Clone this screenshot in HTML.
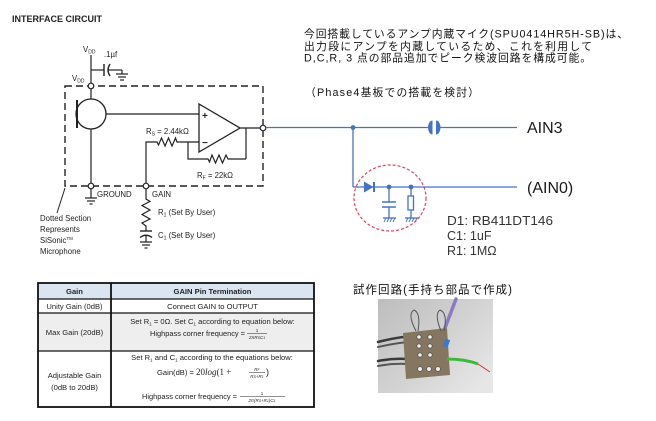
<!DOCTYPE html>
<html><head><meta charset="utf-8">
<style>
html,body{margin:0;padding:0;background:#fff;}
svg{display:block;}
text{font-family:"Liberation Sans","Noto Sans CJK JP",sans-serif;}
</style></head><body>
<svg width="656" height="421" viewBox="0 0 656 421" xmlns="http://www.w3.org/2000/svg">
<defs>
<linearGradient id="bg" x1="0" y1="0" x2="1" y2="0.8">
<stop offset="0" stop-color="#bdbdbd"/><stop offset="0.55" stop-color="#d2d2d2"/><stop offset="1" stop-color="#e6e6e6"/>
</linearGradient>
</defs>
<rect width="656" height="421" fill="#fff"/>

<!-- Title -->
<text x="12" y="22" font-size="9.5" font-weight="bold" fill="#222" textLength="90" lengthAdjust="spacingAndGlyphs">INTERFACE CIRCUIT</text>

<!-- Left circuit -->
<g stroke="#222" stroke-width="1.2" fill="none">
  <line x1="91" y1="55" x2="91" y2="84"/>
  <line x1="91" y1="70" x2="104" y2="70"/>
  <line x1="104" y1="64" x2="104" y2="76" stroke-width="1.4"/>
  <path d="M110,64 Q106,70 110,76" stroke-width="1.4"/>
  <line x1="108" y1="70" x2="122" y2="70"/>
  <line x1="122" y1="70" x2="122" y2="74"/>
  <line x1="116" y1="74" x2="128" y2="74"/>
  <line x1="118" y1="77" x2="126" y2="77"/>
  <line x1="120" y1="80" x2="124" y2="80"/>
  <rect x="65" y="86" width="198" height="100" stroke-dasharray="7,4" stroke-width="1.4"/>
  <line x1="91" y1="89" x2="91" y2="99"/>
  <circle cx="91" cy="114" r="15" stroke-width="1.3"/>
  <line x1="77" y1="100" x2="77" y2="128" stroke-width="2"/>
  <line x1="91" y1="129" x2="91" y2="183"/>
  <line x1="106" y1="114" x2="199" y2="114"/>
  <polygon points="199,104 199,152 240,128" stroke-width="1.3"/>
  <line x1="240" y1="128" x2="260" y2="128"/>
  <line x1="246" y1="128" x2="246" y2="159"/>
  <polyline points="246,159 228,159 226,155 222.5,163 219,155 215.5,163 212,155 209.5,162 208,159 188,159 188,142 199,142"/>
  <polyline points="188,142 177,142 175.5,138 172,146 168.5,138 165,146 161.5,138 158.5,145 157,142 146,142 146,183"/>
  <line x1="91" y1="189" x2="91" y2="198"/>
  <line x1="85" y1="198" x2="97" y2="198"/>
  <line x1="87" y1="201" x2="95" y2="201"/>
  <line x1="89.5" y1="204" x2="92.5" y2="204"/>
  <polyline points="146,189 146,199 150,201.5 142,205.5 150,210 142,214.5 150,219 142,223 146,226 146,231"/>
  <line x1="140" y1="231" x2="152" y2="231" stroke-width="1.4"/>
  <path d="M140,237.5 Q146,233 152,237.5" stroke-width="1.4"/>
  <line x1="146" y1="235" x2="146" y2="242"/>
  <line x1="140" y1="242" x2="152" y2="242"/>
  <line x1="142" y1="245" x2="150" y2="245"/>
  <line x1="144.5" y1="248" x2="147.5" y2="248"/>
  <line x1="65" y1="188" x2="57" y2="213" stroke-width="1"/>
</g>
<g fill="#fff" stroke="#222" stroke-width="1.2">
  <circle cx="91" cy="86" r="2.8"/>
  <circle cx="91" cy="186" r="2.8"/>
  <circle cx="146" cy="186" r="2.8"/>
  <circle cx="263" cy="128" r="2.8"/>
</g>
<g fill="#222" font-size="7.8">
  <text x="83" y="52">V<tspan font-size="5" dy="1.5">DD</tspan></text>
  <text x="104" y="57">.1µf</text>
  <text x="72" y="81">V<tspan font-size="5" dy="1.5">DD</tspan></text>
  <text x="202" y="119" font-size="10" font-weight="bold">+</text>
  <text x="202" y="146" font-size="10" font-weight="bold">−</text>
  <text x="146" y="134">R<tspan font-size="5" dy="1.5">S</tspan><tspan dy="-1.5"> = 2.44kΩ</tspan></text>
  <text x="197" y="178">R<tspan font-size="5" dy="1.5">F</tspan><tspan dy="-1.5"> = 22kΩ</tspan></text>
  <text x="97" y="197">GROUND</text>
  <text x="152" y="197">GAIN</text>
  <text x="158" y="215">R<tspan font-size="5" dy="1.5">1</tspan><tspan dy="-1.5"> (Set By User)</tspan></text>
  <text x="158" y="238">C<tspan font-size="5" dy="1.5">1</tspan><tspan dy="-1.5"> (Set By User)</tspan></text>
  <text x="40" y="221">Dotted Section</text>
  <text x="40" y="232">Represents</text>
  <text x="40" y="243">SiSonic<tspan font-size="4.5" dy="-3">TM</tspan></text>
  <text x="40" y="254">Microphone</text>
</g>

<!-- Blue circuit -->
<g stroke="#4472c4" stroke-width="1.3" fill="none">
  <line x1="266" y1="127.5" x2="428" y2="127.5"/>
  <line x1="440" y1="127.5" x2="517" y2="127.5"/>
  <line x1="353" y1="127.5" x2="353" y2="187"/>
  <line x1="353" y1="187" x2="517" y2="187"/>
  <line x1="374" y1="182" x2="374" y2="192" stroke-width="2"/>
  <line x1="389" y1="187" x2="389" y2="202"/>
  <line x1="382" y1="202" x2="396" y2="202" stroke-width="1.5"/>
  <line x1="382" y1="207" x2="396" y2="207" stroke-width="1.5"/>
  <line x1="389" y1="207" x2="389" y2="218"/>
  <line x1="383" y1="218" x2="396" y2="218"/>
  <path d="M386,218 l-2,4 M389,218 l-2,4 M392,218 l-2,4 M395,218 l-2,4" stroke-width="0.9"/>
  <line x1="411" y1="187" x2="411" y2="196"/>
  <rect x="408" y="196" width="5.5" height="14" fill="#fff"/>
  <line x1="411" y1="210" x2="411" y2="218"/>
  <line x1="405" y1="218" x2="418" y2="218"/>
  <path d="M408,218 l-2,4 M411,218 l-2,4 M414,218 l-2,4 M417,218 l-2,4" stroke-width="0.9"/>
</g>
<g fill="#4472c4">
  <path d="M432.5,120.5 A4.5,7 0 0 0 432.5,134.5 Z"/>
  <path d="M436,120.5 A4.5,7 0 0 1 436,134.5 Z"/>
  <circle cx="353" cy="127.5" r="2.4"/>
  <circle cx="389" cy="187" r="2.4"/>
  <circle cx="411" cy="187" r="2.4"/>
  <polygon points="364,181.5 364,192.5 373.5,187"/>
</g>
<ellipse cx="390" cy="198" rx="36" ry="33" fill="none" stroke="#e0405c" stroke-width="1.2" stroke-dasharray="3,2"/>

<g fill="#1a1a1a" font-size="16">
  <text x="527" y="133">AIN3</text>
  <text x="527" y="193">(AIN0)</text>
</g>
<g fill="#333" font-size="12.5">
  <text x="447" y="225" textLength="106" lengthAdjust="spacingAndGlyphs">D1: RB411DT146</text>
  <text x="447" y="240">C1: 1uF</text>
  <text x="447" y="255">R1: 1MΩ</text>
</g>

<!-- Japanese text -->
<g fill="#111" font-size="10.8">
  <text x="304" y="37.5" textLength="324" lengthAdjust="spacing">今回搭載しているアンプ内蔵マイク(SPU0414HR5H-SB)は、</text>
  <text x="304" y="50" textLength="288" lengthAdjust="spacing">出力段にアンプを内蔵しているため、これを利用して</text>
  <text x="304" y="61.5" textLength="287" lengthAdjust="spacing">D,C,R, 3 点の部品追加でピーク検波回路を構成可能。</text>
  <text x="305" y="96" textLength="174" lengthAdjust="spacing">（Phase4基板での搭載を検討）</text>
  <text x="353" y="293.5" font-size="11.5" textLength="159" lengthAdjust="spacing">試作回路(手持ち部品で作成)</text>
</g>

<!-- Table -->
<rect x="38" y="283" width="276" height="16" fill="#dbe5f1"/>
<rect x="38" y="313" width="276" height="38" fill="#eeeeee"/>
<g stroke="#111" fill="none">
  <line x1="38" y1="299" x2="314" y2="299" stroke-width="1.2"/>
  <line x1="38" y1="313" x2="314" y2="313" stroke-width="1.2"/>
  <line x1="38" y1="351" x2="314" y2="351" stroke-width="1.2"/>
  <line x1="111" y1="283" x2="111" y2="407" stroke-width="1.8"/>
  <rect x="38" y="283" width="276" height="124" stroke-width="1.8"/>
</g>
<g fill="#222" font-size="7.6" text-anchor="middle">
  <text x="74.5" y="294" font-weight="bold">Gain</text>
  <text x="212.5" y="294" font-weight="bold">GAIN Pin Termination</text>
  <text x="74.5" y="309">Unity Gain (0dB)</text>
  <text x="212.5" y="309">Connect GAIN to OUTPUT</text>
  <text x="74.5" y="335">Max Gain (20dB)</text>
  <text x="74.5" y="378">Adjustable Gain</text>
  <text x="74.5" y="390">(0dB to 20dB)</text>
  <text x="212.5" y="324">Set R<tspan font-size="4.5" dy="1.5">1</tspan><tspan dy="-1.5"> = 0Ω. Set C</tspan><tspan font-size="4.5" dy="1.5">1</tspan><tspan dy="-1.5"> according to equation below:</tspan></text>
  <text x="212" y="360">Set R<tspan font-size="4.5" dy="1.5">1</tspan><tspan dy="-1.5"> and C</tspan><tspan font-size="4.5" dy="1.5">1</tspan><tspan dy="-1.5"> according to the equations below:</tspan></text>
</g>
<g fill="#222" font-size="7.6">
  <text x="150" y="336" textLength="95" lengthAdjust="spacingAndGlyphs">Highpass corner frequency =</text>
  <text x="257" y="332" font-size="4.5" text-anchor="middle">1</text>
  <line x1="247" y1="333.5" x2="267" y2="333.5" stroke="#222" stroke-width="0.5"/>
  <text x="257" y="339" font-size="4.5" font-style="italic" text-anchor="middle">2πR<tspan font-size="3.5">S</tspan>C<tspan font-size="3.5">1</tspan></text>

  <text x="157" y="375">Gain(dB) = <tspan font-family="Liberation Serif" font-size="9">20<tspan font-style="italic">log</tspan>(1 +</tspan></text>
  <text x="257" y="371" font-size="4.5" font-style="italic" text-anchor="middle">R<tspan font-size="3.5">F</tspan></text>
  <line x1="249" y1="372.5" x2="265" y2="372.5" stroke="#222" stroke-width="0.5"/>
  <text x="257" y="378" font-size="4.5" font-style="italic" text-anchor="middle">R<tspan font-size="3.5">S</tspan>+R<tspan font-size="3.5">1</tspan></text>
  <text x="266" y="375" font-family="Liberation Serif" font-size="9">)</text>

  <text x="142" y="399" textLength="95" lengthAdjust="spacingAndGlyphs">Highpass corner frequency =</text>
  <text x="262" y="395" font-size="4.5" text-anchor="middle">1</text>
  <line x1="240" y1="396.5" x2="285" y2="396.5" stroke="#222" stroke-width="0.5"/>
  <text x="262" y="402" font-size="4.5" font-style="italic" text-anchor="middle">2π(R<tspan font-size="3.5">S</tspan>+R<tspan font-size="3.5">1</tspan>)C<tspan font-size="3.5">1</tspan></text>
</g>

<!-- Photo -->
<rect x="378" y="299" width="115" height="94" fill="url(#bg)"/>
<g fill="none" stroke-linecap="round">
  <path d="M378,342 Q400,336 421,336" stroke="#3d3d3d" stroke-width="2.5"/>
  <path d="M378,347 Q400,342 421,341" stroke="#555" stroke-width="2"/>
  <path d="M378,361 Q398,357 418,360" stroke="#3a3a3a" stroke-width="2.5"/>
  <path d="M378,366 Q398,362 418,365" stroke="#555" stroke-width="2"/>
  <path d="M456,299 L448,320 L442,336" stroke="#8b7cc0" stroke-width="3.5"/>
</g>
<polygon points="403,333 447,328 450,375 406,379" fill="#85775f"/>
<g fill="#eee" stroke="#555" stroke-width="0.8">
  <circle cx="419" cy="337" r="2.2"/><circle cx="430" cy="337" r="2.2"/>
  <circle cx="419" cy="346" r="2.2"/><circle cx="430" cy="346" r="2.2"/>
  <circle cx="420" cy="355" r="2.2"/><circle cx="430" cy="355" r="2.2"/>
  <circle cx="420" cy="369" r="2.4"/><circle cx="429" cy="369" r="2.4"/><circle cx="438" cy="369" r="2.4"/>
</g>
<g fill="none" stroke="#555" stroke-width="1">
  <path d="M416,331 Q407,314 414,310 Q421,313 418,331"/>
  <path d="M441,331 Q434,314 440,310 Q448,313 444,331"/>
</g>
<rect x="444" y="339" width="5" height="8" fill="#3a78d0" transform="rotate(20 446 343)"/>
<path d="M447,359 Q465,359 478,364" fill="none" stroke="#3cb83c" stroke-width="3"/>
<path d="M478,364 L490,372" fill="none" stroke="#c33" stroke-width="1"/>
</svg>
</body></html>
